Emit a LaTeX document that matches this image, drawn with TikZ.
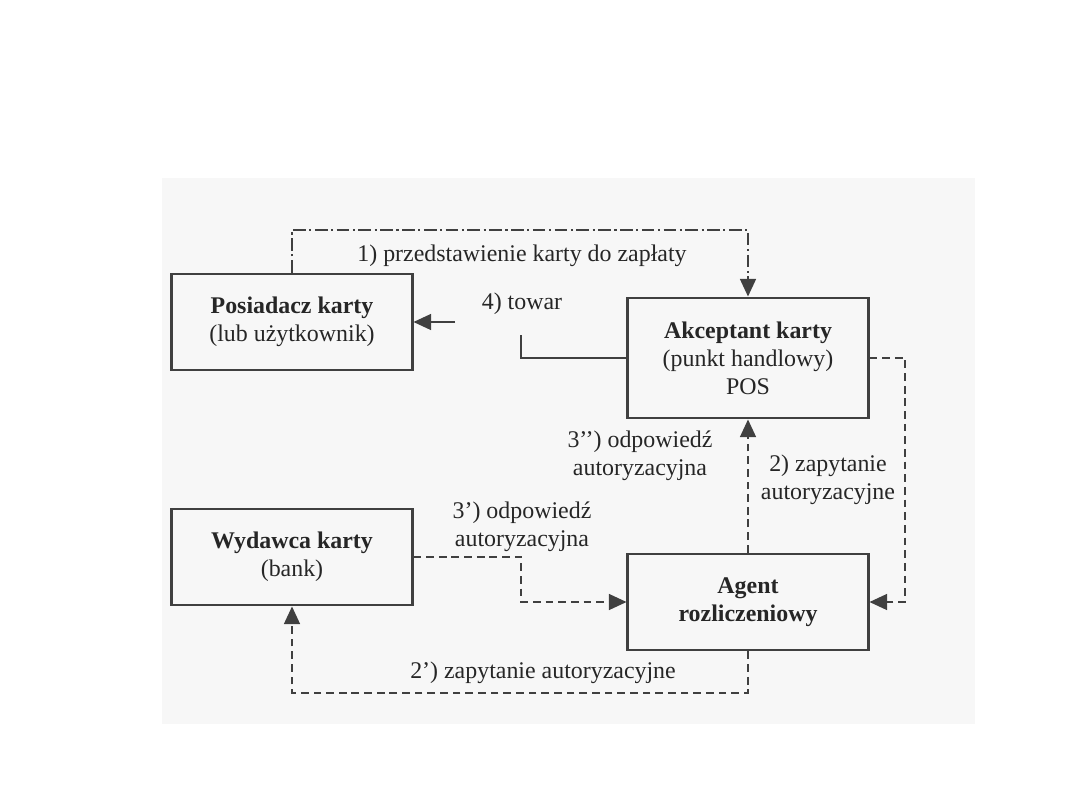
\documentclass[tikz,border=0pt]{standalone}
\usepackage{fontspec}
\setmainfont{Liberation Serif}
\usetikzlibrary{positioning,arrows.meta}

\begin{document}
\begin{tikzpicture}[x=0.025cm,y=-0.025cm,>={Triangle[length=0.44cm,width=0.4cm]},
    entity/.style={draw=black!75, line width=2.1pt, minimum width=6.0cm, align=center,
        font=\fontsize{17}{20}\selectfont, text=black!85},
    lbl/.style={align=center, font=\fontsize{17}{20}\selectfont, text=black!85},
    solidflow/.style={draw=black!75, line width=1.1pt},
    dashflow/.style={draw=black!75, line width=1.1pt, dash pattern=on 5.5pt off 3.5pt},
    dotdashflow/.style={draw=black!75, line width=1.1pt, dash pattern=on 9pt off 2.5pt on 1.5pt off 2.5pt}]

\useasboundingbox (0,0) rectangle (1080,810);

% -------------------------
% Tlo skanu
% -------------------------
\fill[black!3] (162,178) rectangle (975,724);

% -------------------------
% Uczestnicy
% -------------------------
\node[entity, minimum height=2.4cm] (holder) at (292,322) {\textbf{Posiadacz karty}\\(lub użytkownik)};
\node[entity, minimum height=3cm] (acceptor) at (748,358) {\textbf{Akceptant karty}\\(punkt handlowy)\\POS};
\node[entity, minimum height=2.4cm] (issuer) at (292,557) {\textbf{Wydawca karty}\\(bank)};
\node[entity, minimum height=2.4cm] (agent) at (748,602) {\textbf{Agent}\\\textbf{rozliczeniowy}};

% -------------------------
% Opisy
% -------------------------
\node[lbl] (present) at (522,256) {1) przedstawienie karty do zapłaty};
\node[lbl] (goods) at (522,304) {4) towar};
\node[lbl] (answerpos) at (640,456) {3’’) odpowiedź\\autoryzacyjna};
\node[lbl] (query) at (828,480) {2) zapytanie\\autoryzacyjne};
\node[lbl] (answerbank) at (522,527) {3’) odpowiedź\\autoryzacyjna};
\node[lbl] (querybank) at (543,673) {2’) zapytanie autoryzacyjne};

% -------------------------
% Punkty zalamania
% -------------------------
\coordinate (presenttop) at (292,230);
\coordinate (goodsfoot) at (521,335);
\coordinate (goodsstart) at (455,322);
\coordinate (queryside) at (905,358);
\coordinate (answerbend) at (521,602);
\coordinate (querybottom) at (748,693);

% -------------------------
% Przeplywy
% -------------------------
\draw[dotdashflow,->] (holder.north) -- (presenttop) -| (acceptor.north);
\draw[solidflow] (acceptor.west) -| (goodsfoot);
\draw[solidflow,->] (goodsstart) -- (holder.east);
\draw[dashflow,->] (acceptor.east) -- (queryside) |- (agent.east);
\draw[dashflow,->] (agent.north) -- (acceptor.south);
\draw[dashflow,->] (issuer.east) -| (answerbend) -- (agent.west);
\draw[dashflow,->] (agent.south) -- (querybottom) -| (issuer.south);

\end{tikzpicture}
\end{document}
